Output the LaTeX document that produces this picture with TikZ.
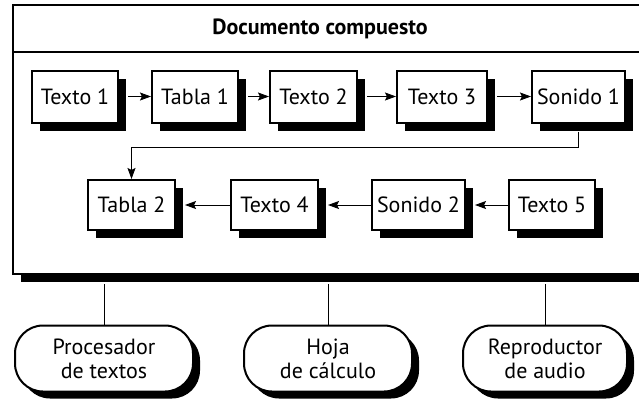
\documentclass[tikz,border=0pt]{standalone}
\usepackage{fontspec}
\setmainfont{PT Sans}
\usetikzlibrary{arrows.meta,shadows}
\begin{document}
\begin{tikzpicture}[x=1pt,y=-1pt,
  shad/.style={drop shadow={shadow xshift=8pt,shadow yshift=-8pt,opacity=1,fill=black}},
  item/.style={draw,line width=2pt,fill=white,shad,minimum height=52pt,inner sep=2pt,font=\fontsize{22}{24}\selectfont},
  app/.style={draw,line width=2pt,fill=white,rounded corners=28pt,minimum height=66pt,align=center,
    drop shadow={shadow xshift=7pt,shadow yshift=-7pt,opacity=1,fill=black},font=\fontsize{22}{24}\selectfont},
  conn/.style={line width=0.9pt},
  arr/.style={line width=0.9pt,-{Stealth[length=11pt,width=8pt,inset=2pt]}}]
\useasboundingbox (0,0) rectangle (639,399);
\clip (0,0) rectangle (639,399);
\fill[white] (0,0) rectangle (639,399);
% outer container
\node[draw,line width=2pt,fill=white,shad,minimum width=652pt,minimum height=269pt,inner sep=0pt] (outer) at (339,139.5) {};
\coordinate (sepL) at (13,52);
\coordinate (sepR) at (665,52);
\draw[line width=1.2pt] (sepL) -- (sepR);
\node[font=\fontsize{22}{24}\selectfont\bfseries] (title) at (320,29) {Documento compuesto};
% row 1
\node[item,minimum width=86pt] (t1) at (75,96.5) {Texto 1};
\node[item,minimum width=86pt] (tb1) at (195,96.5) {Tabla 1};
\node[item,minimum width=87pt] (t2) at (313.5,96.5) {Texto 2};
\node[item,minimum width=90pt] (t3) at (442,96.5) {Texto 3};
\node[item,minimum width=93pt] (s1) at (578.5,96.5) {Sonido 1};
% row 2
\node[item,minimum width=87pt,minimum height=50pt] (tb2) at (131.5,205) {Tabla 2};
\node[item,minimum width=87pt,minimum height=50pt] (t4) at (274.5,205) {Texto 4};
\node[item,minimum width=93pt,minimum height=50pt] (s2) at (418.5,205) {Sonido 2};
\node[item,minimum width=86pt,minimum height=50pt] (t5) at (552,205) {Texto 5};
% arrows row 1
\draw[arr] ([xshift=9pt]t1.east) -- (tb1.west);
\draw[arr] ([xshift=9pt]tb1.east) -- (t2.west);
\draw[arr] ([xshift=9pt]t2.east) -- (t3.west);
\draw[arr] ([xshift=9pt]t3.east) -- (s1.west);
% elbow
\coordinate (bend) at (0,147);
\draw[arr] ([yshift=-8pt]s1.south) -- (s1.south |- bend) -- (tb2.north |- bend) -- (tb2.north);
% arrows row 2
\draw[arr] (t5.west) -- ([xshift=9pt]s2.east);
\draw[arr] (s2.west) -- ([xshift=9pt]t4.east);
\draw[arr] (t4.west) -- ([xshift=9pt]tb2.east);
% applications
\node[app,minimum width=178pt] (proc) at (104,358.5) {Procesador\\de textos};
\node[app,minimum width=168pt] (hoja) at (328,358.5) {Hoja\\de cálculo};
\node[app,minimum width=164pt] (repr) at (545,358.5) {Reproductor\\de audio};
\draw[conn] (proc.north) -- ([yshift=-9pt]proc.north |- outer.south);
\draw[conn] (hoja.north) -- ([yshift=-9pt]hoja.north |- outer.south);
\draw[conn] (repr.north) -- ([yshift=-9pt]repr.north |- outer.south);
\end{tikzpicture}
\end{document}
